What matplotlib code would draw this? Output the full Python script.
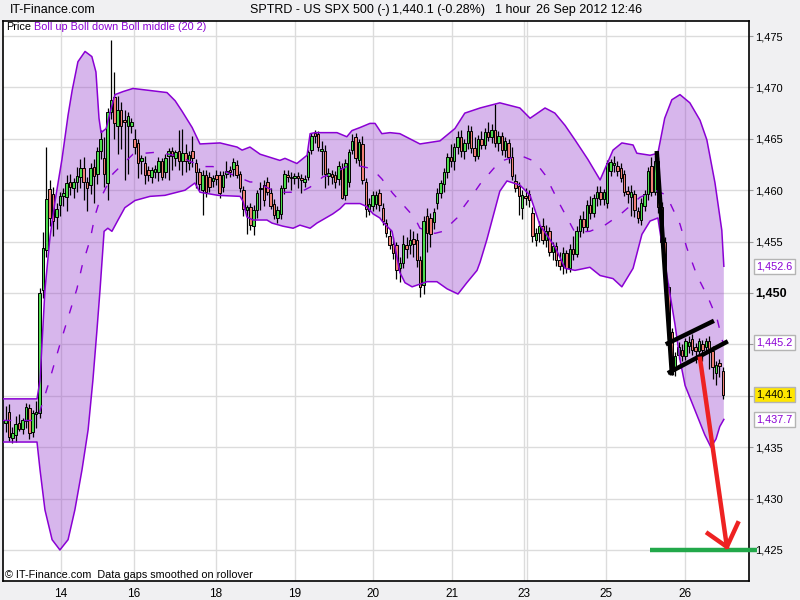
import numpy as np
import matplotlib
matplotlib.use("Agg")
import matplotlib.pyplot as plt
from matplotlib import transforms

plt.rcParams["font.family"] = ["Liberation Sans", "DejaVu Sans"]

# hourly candles, one per bar
opens = [1437.4, 1438.4, 1435.9, 1436.2, 1437.4, 1436.8, 1437.5, 1438.8, 1436.5, 1438.2,
         1438.3, 1450.3, 1454.2, 1460.1, 1459.6, 1457.4, 1458.6, 1459.4, 1459.3, 1460.8,
         1460.2, 1460.8, 1461.3, 1462.2, 1460.8, 1460.5, 1462.3, 1461.6, 1463.8, 1463.1,
         1460.7, 1467.6, 1469.1, 1466.2, 1467.8, 1466.8, 1466.2, 1466.2, 1465.0, 1464.6,
         1462.8, 1462.6, 1462.0, 1461.3, 1461.8, 1461.8, 1462.8, 1461.8, 1463.3, 1463.8,
         1463.1, 1463.8, 1462.8, 1463.6, 1462.6, 1463.8, 1462.6, 1461.8, 1460.0, 1461.5,
         1461.3, 1460.9, 1461.5, 1461.5, 1460.3, 1461.6, 1462.0, 1462.1, 1462.5, 1461.6,
         1460.0, 1458.1, 1458.4, 1456.5, 1458.1, 1460.1, 1460.5, 1460.8, 1459.7, 1458.7,
         1457.3, 1457.7, 1460.2, 1461.5, 1461.3, 1461.2, 1461.4, 1461.2, 1460.8, 1461.3,
         1463.9, 1465.6, 1465.5, 1463.8, 1463.8, 1461.4, 1461.6, 1461.5, 1461.1, 1462.2,
         1459.5, 1460.8, 1463.9, 1465.2, 1462.9, 1464.5, 1460.8, 1458.0, 1458.5, 1458.7,
         1459.7, 1458.3, 1456.8, 1455.5, 1454.8, 1454.7, 1452.4, 1452.9, 1454.7, 1454.7,
         1455.3, 1455.2, 1453.2, 1450.8, 1457.5, 1457.3, 1456.9, 1458.8, 1459.7, 1460.6,
         1461.8, 1463.2, 1462.8, 1464.2, 1465.2, 1463.8, 1464.6, 1465.8, 1464.1, 1463.3,
         1465.0, 1464.4, 1465.7, 1465.2, 1465.9, 1464.6, 1465.3, 1463.9, 1464.6, 1463.2,
         1460.9, 1460.4, 1458.3, 1459.4, 1459.6, 1457.8, 1455.2, 1455.8, 1456.5, 1455.2,
         1456.0, 1454.0, 1454.6, 1453.2, 1452.6, 1453.9, 1452.4, 1454.3, 1453.8, 1456.0,
         1457.2, 1456.4, 1458.6, 1457.8, 1459.2, 1459.8, 1459.1, 1458.8, 1461.9, 1462.5,
         1462.4, 1462.2, 1461.6, 1459.9, 1459.3, 1459.6, 1458.0, 1457.1, 1458.5, 1459.6,
         1462.4, 1459.8, 1462.8, 1458.4, 1455.0, 1450.6, 1446.2, 1442.6, 1444.0, 1444.5,
         1443.9, 1444.8, 1445.5, 1444.7, 1444.4, 1445.0, 1444.7, 1445.3, 1444.4, 1442.2,
         1443.2, 1442.4]
highs = [1439.0, 1439.2, 1437.0, 1438.0, 1438.2, 1437.8, 1439.3, 1439.2, 1438.6, 1439.5,
         1450.5, 1455.9, 1464.2, 1461.0, 1460.3, 1458.8, 1459.8, 1460.2, 1461.5, 1461.6,
         1461.2, 1462.3, 1463.0, 1463.2, 1461.3, 1462.6, 1463.0, 1464.2, 1465.9, 1465.2,
         1468.0, 1474.6, 1471.5, 1469.2, 1468.6, 1467.8, 1467.6, 1467.0, 1466.0, 1465.0,
         1463.4, 1463.3, 1462.4, 1462.3, 1462.5, 1463.2, 1463.1, 1463.5, 1464.1, 1464.2,
         1463.9, 1465.9, 1466.0, 1464.5, 1463.8, 1465.3, 1463.0, 1462.2, 1462.0, 1462.0,
         1461.8, 1461.5, 1462.0, 1461.9, 1461.9, 1462.8, 1462.4, 1463.1, 1462.9, 1461.9,
         1460.4, 1458.6, 1458.8, 1458.6, 1460.0, 1460.8, 1461.0, 1461.3, 1460.2, 1459.1,
         1458.5, 1460.5, 1462.0, 1462.0, 1461.8, 1461.7, 1461.8, 1461.6, 1461.5, 1463.9,
         1465.6, 1465.9, 1465.8, 1464.8, 1464.4, 1462.2, 1462.0, 1461.9, 1462.8, 1462.6,
         1463.0, 1464.0, 1465.5, 1465.6, 1465.0, 1465.3, 1461.2, 1459.2, 1459.9, 1459.9,
         1460.1, 1458.8, 1457.2, 1456.2, 1455.4, 1455.0, 1453.5, 1455.6, 1455.4, 1456.2,
         1456.0, 1455.8, 1453.6, 1457.5, 1458.3, 1457.8, 1458.3, 1460.2, 1461.0, 1462.2,
         1463.6, 1464.5, 1464.6, 1465.8, 1465.9, 1465.0, 1466.3, 1466.2, 1465.2, 1465.4,
         1465.8, 1466.1, 1466.6, 1466.4, 1468.4, 1465.8, 1465.7, 1465.2, 1465.0, 1464.2,
         1461.6, 1460.8, 1460.0, 1460.2, 1460.0, 1458.4, 1456.3, 1457.0, 1457.3, 1456.6,
         1456.4, 1455.0, 1455.0, 1454.0, 1454.5, 1454.2, 1454.8, 1455.5, 1456.5, 1457.6,
         1458.0, 1459.0, 1459.4, 1459.6, 1460.4, 1460.4, 1460.1, 1462.9, 1463.0, 1463.3,
         1462.8, 1462.6, 1462.0, 1460.4, 1460.5, 1460.0, 1458.4, 1459.2, 1460.0, 1462.3,
         1463.2, 1463.4, 1463.2, 1458.9, 1455.4, 1451.0, 1446.6, 1444.3, 1445.2, 1445.0,
         1445.6, 1445.8, 1446.0, 1445.1, 1445.6, 1445.4, 1445.6, 1445.8, 1444.8, 1443.4,
         1443.6, 1442.8]
lows = [1436.5, 1435.6, 1435.4, 1435.5, 1436.6, 1436.3, 1436.9, 1435.8, 1436.0, 1436.9,
        1437.8, 1449.5, 1453.5, 1456.5, 1455.5, 1456.2, 1457.5, 1458.5, 1458.0, 1459.5,
        1459.2, 1459.8, 1460.2, 1459.0, 1458.0, 1459.6, 1458.8, 1460.6, 1463.0, 1460.3,
        1459.0, 1466.9, 1465.0, 1463.5, 1464.0, 1461.0, 1461.6, 1465.6, 1463.5, 1461.2,
        1461.6, 1460.6, 1460.9, 1460.7, 1461.2, 1460.9, 1461.0, 1461.2, 1461.0, 1462.0,
        1462.4, 1462.0, 1461.5, 1461.8, 1462.0, 1462.3, 1460.2, 1460.0, 1457.6, 1459.3,
        1459.8, 1460.3, 1460.5, 1459.2, 1459.8, 1461.2, 1461.3, 1461.4, 1461.2, 1459.8,
        1457.5, 1455.7, 1456.1, 1455.6, 1457.3, 1458.1, 1458.5, 1459.5, 1458.2, 1457.2,
        1456.8, 1457.2, 1459.6, 1460.8, 1460.0, 1460.6, 1460.2, 1459.7, 1460.3, 1461.0,
        1463.5, 1464.6, 1463.8, 1461.5, 1460.2, 1460.5, 1460.6, 1460.2, 1460.5, 1459.1,
        1459.0, 1460.3, 1463.5, 1462.6, 1462.4, 1460.6, 1457.4, 1457.6, 1458.0, 1458.2,
        1458.0, 1456.6, 1455.4, 1454.3, 1453.3, 1451.4, 1451.1, 1452.4, 1453.4, 1453.8,
        1453.5, 1452.5, 1449.6, 1449.9, 1454.0, 1454.5, 1456.2, 1458.2, 1459.2, 1459.8,
        1461.2, 1462.3, 1462.0, 1463.5, 1463.2, 1463.0, 1464.0, 1463.6, 1462.8, 1463.0,
        1464.0, 1464.0, 1464.8, 1464.6, 1464.2, 1463.8, 1463.4, 1463.2, 1462.6, 1461.0,
        1459.8, 1457.6, 1457.2, 1458.6, 1458.4, 1455.0, 1454.6, 1455.0, 1454.8, 1454.5,
        1453.6, 1453.2, 1452.6, 1452.2, 1451.8, 1451.9, 1452.0, 1453.2, 1453.5, 1455.4,
        1455.8, 1456.0, 1457.2, 1457.4, 1458.5, 1458.6, 1458.6, 1458.3, 1461.4, 1461.8,
        1461.4, 1460.8, 1459.4, 1458.8, 1457.5, 1457.4, 1456.8, 1456.6, 1458.0, 1459.0,
        1459.4, 1459.5, 1457.8, 1454.6, 1450.2, 1445.5, 1442.0, 1441.9, 1443.6, 1443.4,
        1443.5, 1444.2, 1444.0, 1443.2, 1443.8, 1443.4, 1444.2, 1442.6, 1441.6, 1441.0,
        1441.8, 1439.7]
closes = [1437.6, 1436.0, 1436.4, 1437.3, 1436.8, 1437.6, 1438.9, 1436.4, 1438.3, 1438.4,
          1450.0, 1454.4, 1459.1, 1457.3, 1457.0, 1458.2, 1459.4, 1459.7, 1460.7, 1460.3,
          1460.8, 1461.4, 1462.2, 1460.8, 1460.2, 1462.2, 1461.4, 1463.8, 1465.0, 1461.6,
          1467.6, 1468.8, 1466.5, 1467.8, 1466.2, 1466.6, 1467.2, 1466.6, 1464.2, 1462.6,
          1463.1, 1461.5, 1461.5, 1462.0, 1462.1, 1462.8, 1461.3, 1463.1, 1463.8, 1463.3,
          1463.7, 1462.8, 1463.6, 1462.8, 1463.4, 1463.1, 1461.8, 1460.6, 1461.5, 1459.8,
          1460.3, 1461.2, 1461.1, 1459.7, 1461.5, 1461.9, 1461.8, 1462.7, 1461.5, 1460.2,
          1458.2, 1458.4, 1456.6, 1458.1, 1459.7, 1460.2, 1459.0, 1459.8, 1458.5, 1457.6,
          1458.1, 1460.2, 1461.6, 1461.3, 1461.2, 1461.4, 1461.2, 1461.0, 1461.1, 1463.7,
          1465.3, 1465.3, 1464.2, 1464.0, 1461.6, 1461.7, 1461.3, 1460.8, 1462.4, 1459.2,
          1462.6, 1463.7, 1464.8, 1463.1, 1464.7, 1461.0, 1458.2, 1458.7, 1459.5, 1459.5,
          1458.6, 1457.0, 1455.8, 1454.7, 1453.9, 1452.2, 1452.9, 1454.8, 1454.3, 1455.2,
          1454.8, 1453.2, 1450.6, 1457.0, 1455.8, 1455.7, 1457.9, 1459.7, 1460.7, 1461.8,
          1463.2, 1462.8, 1464.2, 1465.2, 1463.8, 1464.6, 1465.8, 1464.1, 1463.3, 1465.0,
          1464.4, 1465.7, 1465.2, 1465.9, 1464.6, 1465.3, 1463.9, 1464.8, 1463.2, 1461.4,
          1460.2, 1459.4, 1459.5, 1459.2, 1459.0, 1455.5, 1455.8, 1456.5, 1455.2, 1456.0,
          1454.0, 1454.6, 1453.2, 1452.6, 1453.9, 1452.4, 1454.3, 1453.8, 1456.0, 1457.2,
          1456.4, 1458.6, 1457.8, 1459.2, 1459.8, 1459.1, 1459.8, 1462.6, 1462.7, 1462.6,
          1461.9, 1461.2, 1459.8, 1459.6, 1459.8, 1458.1, 1457.3, 1458.8, 1459.6, 1461.9,
          1459.8, 1462.8, 1458.4, 1455.0, 1450.6, 1446.2, 1442.6, 1443.9, 1444.7, 1443.9,
          1445.3, 1445.2, 1444.5, 1444.4, 1445.3, 1444.5, 1445.3, 1444.5, 1442.8, 1443.0,
          1442.9, 1440.1]

# Bollinger (20, 2) envelope as drawn, x in bar units
up_x = [-0.74, 9.26, 10.15, 11.6, 13.1, 14.6, 16.6, 18.4, 19.6, 21.3, 23.4, 25.4, 26.6, 27.5,
        28.1, 29.6, 30.7, 32.2, 34.6, 37.5, 42.5, 47.5, 49.9, 51.9, 54.9, 57.2, 63.1, 68.1,
        69.6, 71.9, 74.9, 80.7, 82.2, 85.7, 88.7, 89.6, 91.0, 97.5, 100.4, 101.9, 104.3,
        107.2, 108.7, 110.7, 113.1, 116.0, 121.9, 127.8, 132.2, 135.1, 139.6, 145.4, 151.3,
        154.3, 158.7, 161.6, 164.6, 167.5, 171.3, 174.9, 178.7, 181.3, 184.6, 185.7, 189.6,
        191.9, 193.9, 196.0, 198.4, 201.3, 204.3, 206.3, 208.7, 210.7, 211.3]
up_y = [1439.7, 1439.7, 1441.5, 1450.3, 1455.5, 1459.0, 1463.0, 1467.3, 1469.7, 1472.5, 1473.5,
        1473.0, 1471.5, 1467.0, 1465.6, 1466.0, 1467.5, 1469.3, 1469.6, 1469.9, 1469.7, 1469.5,
        1468.7, 1467.7, 1466.1, 1464.5, 1464.6, 1464.2, 1463.9, 1464.2, 1463.5, 1462.9, 1463.1,
        1462.6, 1463.4, 1465.5, 1465.6, 1465.6, 1465.2, 1465.8, 1466.1, 1466.5, 1466.5, 1465.5,
        1465.6, 1465.5, 1464.5, 1464.8, 1466.0, 1467.5, 1468.0, 1468.5, 1468.0, 1467.0, 1468.0,
        1467.5, 1466.3, 1464.9, 1463.0, 1461.0, 1463.9, 1464.6, 1464.4, 1463.6, 1463.4, 1463.6,
        1467.0, 1468.8, 1469.3, 1468.5, 1466.8, 1464.9, 1460.7, 1456.1, 1452.6]
low_x = [-0.74, 9.26, 10.15, 11.6, 13.7, 16.0, 18.4, 20.4, 22.5, 24.3, 25.7, 26.9, 27.8, 29.0,
         30.1, 31.3, 33.1, 35.1, 38.1, 42.5, 46.9, 52.8, 55.7, 57.2, 62.5, 69.0, 69.9, 71.0,
         72.8, 76.9, 78.4, 81.6, 84.6, 86.6, 89.6, 91.6, 96.3, 98.4, 99.9, 104.3, 106.3, 108.1,
         110.1, 111.0, 113.7, 116.0, 117.5, 119.6, 124.0, 126.9, 129.9, 133.1, 135.7, 138.7,
         139.6, 141.6, 145.4, 147.5, 151.3, 154.3, 157.2, 161.6, 164.6, 167.5, 171.9, 174.9,
         178.7, 181.3, 184.6, 187.2, 189.6, 191.9, 193.9, 195.4, 196.9, 198.4, 199.9, 202.8,
         205.7, 207.5, 209.0, 210.1, 211.3]
low_y = [1435.5, 1435.5, 1432.8, 1428.9, 1426.0, 1425.0, 1426.0, 1428.9, 1432.8, 1436.7, 1441.5,
         1446.4, 1450.3, 1456.0, 1456.3, 1456.0, 1457.1, 1458.3, 1459.0, 1459.4, 1459.5, 1460.0,
         1460.7, 1459.8, 1459.5, 1459.4, 1458.9, 1457.4, 1457.1, 1457.1, 1456.8, 1456.5, 1456.3,
         1456.6, 1456.3, 1456.8, 1457.7, 1458.2, 1458.7, 1458.7, 1458.4, 1457.7, 1457.3, 1456.9,
         1456.0, 1452.0, 1451.0, 1450.6, 1451.1, 1451.1, 1450.4, 1449.9, 1451.0, 1452.2, 1453.0,
         1455.2, 1459.9, 1460.9, 1460.5, 1459.5, 1456.6, 1454.5, 1452.4, 1452.2, 1452.5, 1451.7,
         1451.4, 1450.6, 1452.4, 1455.7, 1457.0, 1457.3, 1453.0, 1450.0, 1447.0, 1443.5, 1441.0,
         1438.6, 1436.2, 1435.0, 1435.8, 1437.0, 1437.7]
mid_x = [-0.74, 9.26, 12.5, 16.0, 21.0, 22.5, 24.9, 26.3, 27.8, 31.6, 37.5, 44.6, 51.3, 54.3,
         58.1, 61.0, 71.9, 73.4, 79.9, 82.8, 86.6, 89.6, 93.4, 95.4, 100.4, 103.4, 107.8, 110.7,
         113.9, 116.9, 120.4, 121.9, 126.3, 128.7, 132.8, 134.6, 137.5, 139.6, 145.4, 151.3,
         155.7, 158.7, 163.1, 167.5, 171.9, 176.3, 180.7, 186.6, 191.0, 193.9, 195.4, 198.4,
         200.4, 203.4, 206.6, 209.3, 211.0]
mid_y = [1437.6, 1437.6, 1441.0, 1445.0, 1450.4, 1452.6, 1455.2, 1457.5, 1459.1, 1461.6, 1463.5,
         1463.7, 1463.3, 1462.8, 1462.3, 1462.3, 1460.8, 1460.8, 1459.8, 1459.8, 1459.8, 1460.3,
         1461.3, 1461.5, 1462.3, 1462.4, 1462.1, 1461.1, 1459.7, 1458.6, 1457.3, 1456.3, 1455.8,
         1456.0, 1457.3, 1458.3, 1459.6, 1460.6, 1462.8, 1463.4, 1462.8, 1461.5, 1458.6, 1455.9,
         1456.0, 1456.6, 1457.6, 1459.3, 1460.0, 1459.6, 1458.8, 1456.7, 1454.4, 1451.7, 1449.6,
         1447.5, 1445.2]

# hand drawn flag + target
pole_x, pole_y = [191.6, 196.0], [1463.6, 1442.2]
flag_top_x, flag_top_y = [194.8, 207.8], [1445.1, 1447.2]
flag_bot_x, flag_bot_y = [195.4, 211.9], [1442.3, 1445.2]
arrow_x, arrow_y = [204.3, 212.2], [1443.6, 1425.3]
head_x, head_y = [206.6, 212.2, 215.4], [1426.6, 1425.3, 1427.6]
target_x, target_y = [189.6, 221.0], [1425.0, 1425.0]

day_pos = [16.3, 37.8, 61.9, 85.1, 108.1, 131.3, 152.5, 176.6, 199.9]
day_lbl = ["14", "16", "18", "19", "20", "21", "23", "25", "26"]
price_ticks = [1425, 1430, 1435, 1440, 1445, 1450, 1455, 1460, 1465, 1470, 1475]

purple = "#8A00D4"
grid_c = "#DCDCDC"

fig = plt.figure(figsize=(8, 6), dpi=100, facecolor="#F0F0F2")
ax = fig.add_axes([0.00375, 0.03167, 0.9325, 0.9333])
ax.set_facecolor("white")

# bands
ax.fill(np.r_[up_x, low_x[::-1]], np.r_[up_y, low_y[::-1]],
        color=(0.56, 0.19, 0.79), alpha=0.35, lw=0, zorder=1)

# candles
x = np.arange(len(closes))
o = np.array(opens); c = np.array(closes)
cols = np.where(c >= o, "#4CDC4C", "#EF7F74")
ax.vlines(x, lows, highs, color="black", lw=0.9, zorder=2.9)
ax.bar(x, c - o, bottom=o, width=0.72, color=cols, edgecolor="black", linewidth=0.7, zorder=3)

ax.plot(up_x, up_y, color=purple, lw=1.1, zorder=4)
ax.plot(low_x, low_y, color=purple, lw=1.1, zorder=4)
ax.plot(mid_x, mid_y, color=purple, lw=1.0, dashes=(6, 9), zorder=4)

# drawings
ax.plot(pole_x, pole_y, color="black", lw=3.2, zorder=5)
ax.plot(flag_top_x, flag_top_y, color="black", lw=3.2, zorder=5)
ax.plot(flag_bot_x, flag_bot_y, color="black", lw=3.2, zorder=5)
ax.plot(target_x, target_y, color="#22A84A", lw=3.2, zorder=5, clip_on=False, solid_capstyle="butt")
ax.plot(arrow_x, arrow_y, color="#EE2222", lw=3.2, zorder=6)
ax.plot(head_x, head_y, color="#EE2222", lw=3.2, zorder=6)

ax.set_xlim(-0.74, 218.7)
ax.set_ylim(1421.98, 1476.46)

ax.set_xticks(day_pos)
ax.set_xticklabels(day_lbl)
ax.set_yticks(price_ticks)
ylabels = ["{:,}".format(v) for v in price_ticks]
ylabels[price_ticks.index(1440)] = ""
ylabels[price_ticks.index(1445)] = ""
ax.set_yticklabels(ylabels)
ax.yaxis.tick_right()
ax.tick_params(axis="y", length=3, color="#999999", pad=1.5, labelsize=8)
ax.tick_params(axis="x", length=0, pad=5, labelsize=8.5)
for t in ax.get_yticklabels():
    if t.get_text() == "1,450":
        t.set_fontweight("bold")
        t.set_fontsize(9)
ax.grid(True, color=grid_c, lw=1)
ax.axvline(153.5, color=grid_c, lw=1, zorder=0.5)
ax.set_axisbelow(True)
for s in ax.spines.values():
    s.set_color("black")
    s.set_linewidth(1.2)

# last values on the price scale
tr = transforms.blended_transform_factory(ax.transAxes, ax.transData)
for val, txt, fc, tc in [(1452.6, "1,452.6", "white", purple),
                         (1445.2, "1,445.2", "white", purple),
                         (1440.1, "1,440.1", "#FFE600", "black"),
                         (1437.7, "1,437.7", "white", purple)]:
    ax.text(1.0095, val, txt, transform=tr, ha="left", va="center", fontsize=7.8, color=tc,
            bbox=dict(boxstyle="square,pad=0.22", fc=fc, ec="#B4B4B4", lw=1), clip_on=False)

ax.text(0.004, 0.989, "Price", transform=ax.transAxes, ha="left", va="center", fontsize=7.8)
ax.text(0.0416, 0.989, "Boll up Boll down Boll middle (20 2)", transform=ax.transAxes,
        ha="left", va="center", fontsize=7.8, color=purple)
ax.text(0.0027, 0.0107, "\u00a9 IT-Finance.com  Data gaps smoothed on rollover",
        transform=ax.transAxes, ha="left", va="center", fontsize=7.8)

fig.text(10 / 800, 1 - 10 / 600, "IT-Finance.com", ha="left", va="center", fontsize=9)
fig.text(250 / 800, 1 - 10 / 600, "SPTRD - US SPX 500 (-)", ha="left", va="center", fontsize=9)
fig.text(392 / 800, 1 - 10 / 600, "1,440.1 (-0.28%)", ha="left", va="center", fontsize=9)
fig.text(495 / 800, 1 - 10 / 600, "1 hour", ha="left", va="center", fontsize=9)
fig.text(536 / 800, 1 - 10 / 600, "26 Sep 2012 12:46", ha="left", va="center", fontsize=9)

fig.savefig("out.png", dpi=100, facecolor=fig.get_facecolor())
